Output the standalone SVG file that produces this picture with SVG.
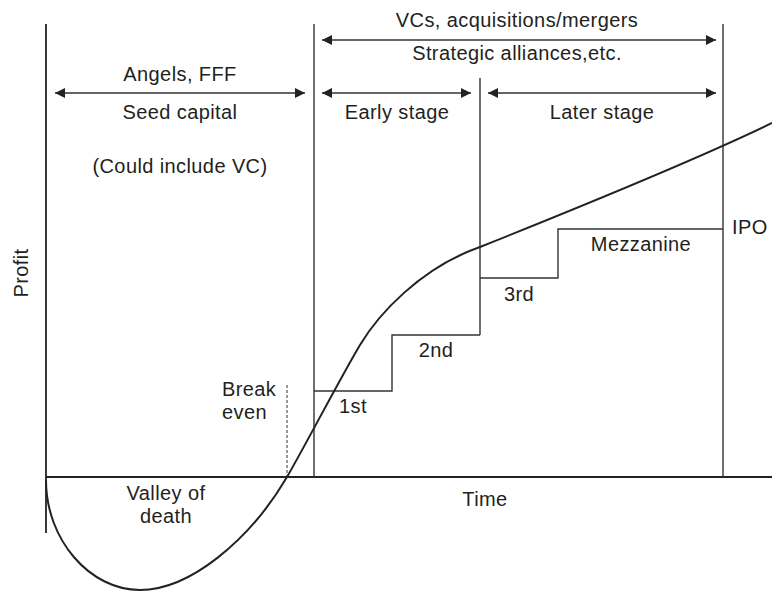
<svg xmlns="http://www.w3.org/2000/svg" width="772" height="591" viewBox="0 0 772 591">
<style>
text{font-family:"Liberation Sans",Arial,sans-serif;font-size:20px;letter-spacing:0.4px;fill:#231f20}
.m{text-anchor:middle}
.ln{stroke:#333;stroke-width:1.4;fill:none}
.ax{stroke:#222;stroke-width:1.8;fill:none}
.ar{stroke:#333;stroke-width:1.4;fill:none;marker-start:url(#ah);marker-end:url(#ah)}
</style>
<defs>
<marker id="ah" viewBox="0 0 10 10" refX="10" refY="5" markerWidth="10" markerHeight="10" markerUnits="userSpaceOnUse" orient="auto-start-reverse">
<path d="M0,0 L10,5 L0,10 z" fill="#222"/>
</marker>
</defs>
<g id="axes">
<line class="ax" x1="46" y1="24" x2="46" y2="533"/>
<line class="ax" x1="46" y1="477" x2="772" y2="477"/>
<text class="m" transform="translate(28,273) rotate(-90)">Profit</text>
<text class="m" x="485" y="506">Time</text>
</g>
<g id="frame">
<line class="ln" x1="314" y1="24" x2="314" y2="477"/>
<line class="ln" x1="723" y1="24" x2="723" y2="477"/>
<line class="ln" x1="480" y1="78" x2="480" y2="335"/>
<line x1="287" y1="385" x2="287" y2="477" stroke="#333" stroke-width="1" stroke-dasharray="3,2"/>
</g>
<g id="connectors">
<line class="ar" x1="55" y1="93" x2="305" y2="93"/>
<line class="ar" x1="322" y1="40" x2="716" y2="40"/>
<line class="ar" x1="322" y1="93" x2="471" y2="93"/>
<line class="ar" x1="488" y1="93" x2="716" y2="93"/>
</g>
<g id="seed">
<text class="m" x="180" y="81">Angels, FFF</text>
<text class="m" x="180" y="119">Seed capital</text>
<text class="m" x="180" y="173">(Could include VC)</text>
</g>
<g id="vc">
<text class="m" x="517" y="27">VCs, acquisitions/mergers</text>
<text class="m" x="517" y="60">Strategic alliances,etc.</text>
</g>
<g id="early"><text class="m" x="397" y="119">Early stage</text></g>
<g id="later"><text class="m" x="602" y="119">Later stage</text></g>
<g id="steps">
<path class="ln" d="M314,391 H392 V335 H480 M480,278 H558 V229 H723"/>
<text class="m" x="353" y="413">1st</text>
<text class="m" x="436" y="357">2nd</text>
<text class="m" x="519" y="301">3rd</text>
<text class="m" x="641" y="251">Mezzanine</text>
<text x="732" y="234">IPO</text>
</g>
<g id="breakeven">
<text x="222" y="396">Break</text>
<text x="222" y="419">even</text>
</g>
<g id="valley">
<text class="m" x="166" y="500">Valley of</text>
<text class="m" x="166" y="523">death</text>
</g>
<g id="curve">
<path d="M46,480 C46,540 90,590 140,590 C190,590 250,540 287,477 C305,446 342,375 360,345 C378,315 420,268 480,247 C580,207 700,158 772,123" fill="none" stroke="#222" stroke-width="2"/>
</g>
</svg>
